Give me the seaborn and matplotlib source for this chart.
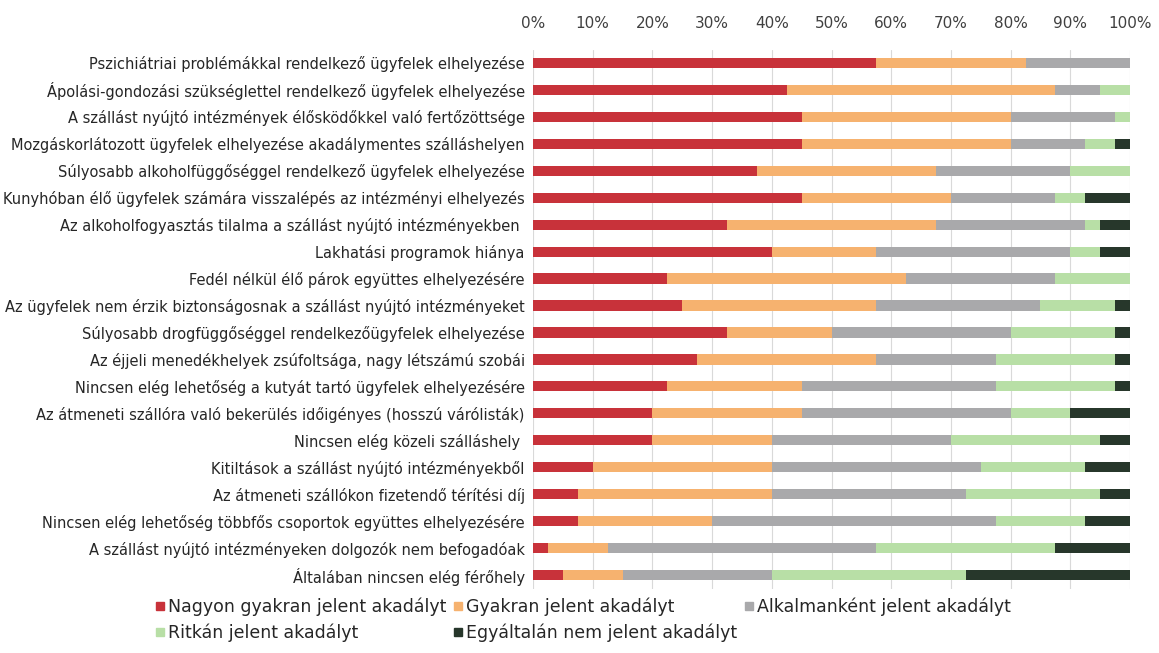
import matplotlib
matplotlib.use("Agg")
import matplotlib.pyplot as plt
import seaborn as sns
import pandas as pd
import numpy as np
from matplotlib.lines import Line2D

categories = [
    "Pszichiátriai problémákkal rendelkező ügyfelek elhelyezése",
    "Ápolási-gondozási szükséglettel rendelkező ügyfelek elhelyezése",
    "A szállást nyújtó intézmények élősködőkkel való fertőzöttsége",
    "Mozgáskorlátozott ügyfelek elhelyezése akadálymentes szálláshelyen",
    "Súlyosabb alkoholfüggőséggel rendelkező ügyfelek elhelyezése",
    "Kunyhóban élő ügyfelek számára visszalépés az intézményi elhelyezés",
    "Az alkoholfogyasztás tilalma a szállást nyújtó intézményekben ",
    "Lakhatási programok hiánya",
    "Fedél nélkül élő párok együttes elhelyezésére",
    "Az ügyfelek nem érzik biztonságosnak a szállást nyújtó intézményeket",
    "Súlyosabb drogfüggőséggel rendelkezőügyfelek elhelyezése",
    "Az éjjeli menedékhelyek zsúfoltsága, nagy létszámú szobái",
    "Nincsen elég lehetőség a kutyát tartó ügyfelek elhelyezésére",
    "Az átmeneti szállóra való bekerülés időigényes (hosszú várólisták)",
    "Nincsen elég közeli szálláshely ",
    "Kitiltások a szállást nyújtó intézményekből",
    "Az átmeneti szállókon fizetendő térítési díj",
    "Nincsen elég lehetőség többfős csoportok együttes elhelyezésére",
    "A szállást nyújtó intézményeken dolgozók nem befogadóak",
    "Általában nincsen elég férőhely",
]

series_names = [
    "Nagyon gyakran jelent akadályt",
    "Gyakran jelent akadályt",
    "Alkalmanként jelent akadályt",
    "Ritkán jelent akadályt",
    "Egyáltalán nem jelent akadályt",
]

nagyon_gyakran = [57.5, 42.5, 45, 45, 37.5, 45, 32.5, 40, 22.5, 25, 32.5, 27.5, 22.5, 20, 20, 10, 7.5, 7.5, 2.5, 5]
gyakran =        [25, 45, 35, 35, 30, 25, 35, 17.5, 40, 32.5, 17.5, 30, 22.5, 25, 20, 30, 32.5, 22.5, 10, 10]
alkalmankent =   [17.5, 7.5, 17.5, 12.5, 22.5, 17.5, 25, 32.5, 25, 27.5, 30, 20, 32.5, 35, 30, 35, 32.5, 47.5, 45, 25]
ritkan =         [0, 5, 2.5, 5, 10, 5, 2.5, 5, 12.5, 12.5, 17.5, 20, 20, 10, 25, 17.5, 22.5, 15, 30, 32.5]
egyaltalan =     [0, 0, 0, 2.5, 0, 7.5, 5, 5, 0, 2.5, 2.5, 2.5, 2.5, 10, 5, 7.5, 5, 7.5, 12.5, 27.5]

xticks = [0, 10, 20, 30, 40, 50, 60, 70, 80, 90, 100]
xtick_labels = ["0%", "10%", "20%", "30%", "40%", "50%", "60%", "70%", "80%", "90%", "100%"]

colors = ["#C8323A", "#F6B26F", "#A9A9AB", "#B8DFA6", "#27372B"]

sns.set_theme(style="white")
plt.rcParams["font.family"] = ["DejaVu Sans"]

df = pd.DataFrame({
    "category": categories,
    series_names[0]: nagyon_gyakran,
    series_names[1]: gyakran,
    series_names[2]: alkalmankent,
    series_names[3]: ritkan,
    series_names[4]: egyaltalan,
})
cum = df[series_names].cumsum(axis=1)

fig = plt.figure(figsize=(11.59, 6.53), dpi=100)
ax = fig.add_axes([533 / 1159, 1 - 588.5 / 653, (1130 - 533) / 1159, (588.5 - 49.5) / 653])

for ax_grid in xticks:
    ax.axvline(ax_grid, color="#D9D9D9", lw=0.8, zorder=0)

# stacked bars by overlaying cumulative totals (largest first)
for i in range(len(series_names) - 1, -1, -1):
    sns.barplot(x=cum[series_names[i]], y=df["category"], orient="h",
                color=colors[i], width=0.38, saturation=1, ax=ax,
                linewidth=0, zorder=2 + (len(series_names) - i))

ax.set_xlim(0, 100)
ax.set_ylim(len(categories) - 0.5, -0.5)
ax.set_xticks(xticks, labels=xtick_labels, fontsize=11, color="#404040")
ax.xaxis.tick_top()
ax.tick_params(axis="x", length=0, pad=13)
ax.tick_params(axis="y", length=0, pad=6, labelsize=10.5, labelcolor="#262626")
ax.set_xlabel("")
ax.set_ylabel("")
for s in ax.spines.values():
    s.set_visible(False)

handles = [Line2D([0], [0], marker="s", linestyle="none", markersize=5.5,
                  markerfacecolor=c, markeredgecolor=c) for c in colors]
order = [0, 3, 1, 4, 2]
leg = fig.legend([handles[k] for k in order], [series_names[k] for k in order],
                 ncol=3, loc="upper left", bbox_to_anchor=(140 / 1159, 1 - 582 / 653),
                 frameon=False, fontsize=12.5, handlelength=0.45, handletextpad=0.25,
                 columnspacing=0.45, labelspacing=0.45)
for t in leg.get_texts():
    t.set_color("#262626")

fig.savefig("out.png", dpi=100)
